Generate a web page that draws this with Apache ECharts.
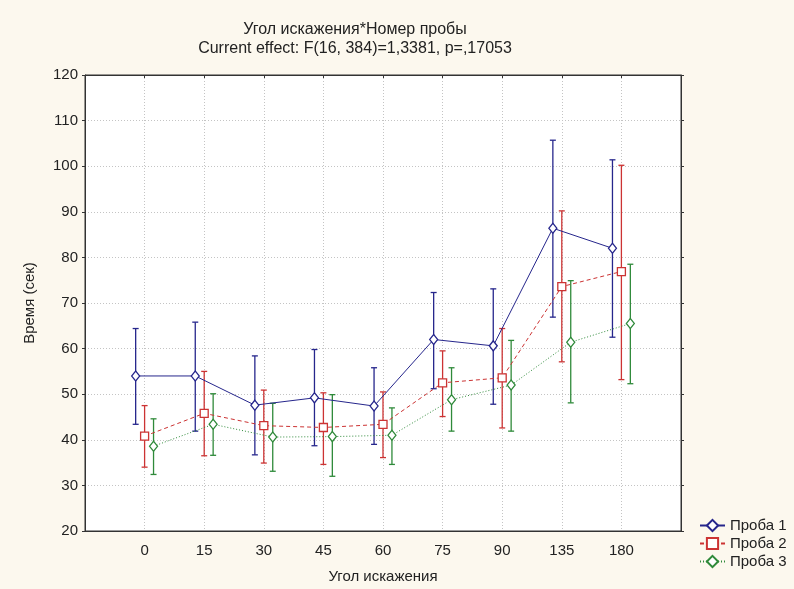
<!DOCTYPE html>
<html lang="ru" style="height: 100%">
<head>
  <meta charset="utf-8">
</head>
<body style="height: 100%; margin: 0">
  <div id="container" style="width: 794px; height: 589px"></div>

  <script type="text/javascript" src="https://fastly.jsdelivr.net/npm/echarts@6/dist/echarts.min.js"></script>
  <script type="text/javascript">
    // данные: средние и границы доверительных интервалов
    var angles = ['0', '15', '30', '45', '60', '75', '90', '135', '180'];
    var mean1 = [54.0, 54.0, 47.6, 49.2, 47.4, 62.0, 60.6, 86.4, 82.0];
    var low1  = [43.4, 41.9, 36.7, 38.7, 39.0, 51.2, 47.8, 66.9, 62.5];
    var high1 = [64.4, 65.8, 58.4, 59.8, 55.8, 72.3, 73.1, 105.7, 101.4];
    var mean2 = [40.8, 45.8, 43.1, 42.7, 43.4, 52.5, 53.6, 73.6, 76.9];
    var low2  = [34.0, 36.5, 34.9, 34.6, 36.1, 45.1, 42.6, 57.1, 53.2];
    var high2 = [47.5, 55.0, 50.9, 50.3, 50.5, 59.5, 64.4, 90.2, 100.2];
    var mean3 = [38.6, 43.4, 40.6, 40.7, 41.0, 48.8, 52.0, 61.4, 65.5];
    var low3  = [32.4, 36.6, 33.1, 32.0, 34.6, 41.9, 41.9, 48.1, 52.3];
    var high3 = [44.6, 50.1, 48.0, 49.9, 47.0, 55.8, 61.8, 74.9, 78.5];

    var dom = document.getElementById('container');
    var myChart = echarts.init(dom, null, { renderer: 'canvas' });
    var font = "'Liberation Sans', Arial, sans-serif";

    var groups = [
      { name: 'Проба 1', mean: mean1, low: low1, high: high1, color: '#26268c', type: 'solid', symbol: 'diamond', size: [8, 10], off: -0.15 },
      { name: 'Проба 2', mean: mean2, low: low2, high: high2, color: '#cc3333', type: [4, 3], symbol: 'rect', size: 8, off: 0 },
      { name: 'Проба 3', mean: mean3, low: low3, high: high3, color: '#2f8a3a', type: [1, 2], symbol: 'diamond', size: [8, 10], off: 0.15 }
    ];

    var series = [];
    groups.forEach(function (g, k) {
      // усы (доверительный интервал)
      series.push({
        name: 'err' + k,
        type: 'custom',
        z: 2,
        silent: true,
        data: g.mean.map(function (m, i) { return [i + g.off, g.low[i], g.high[i]]; }),
        renderItem: function (params, api) {
          var lo = api.coord([api.value(0), api.value(1)]);
          var hi = api.coord([api.value(0), api.value(2)]);
          var w = 3;
          var st = { stroke: g.color, lineWidth: 1.3 };
          return {
            type: 'group',
            children: [
              { type: 'line', shape: { x1: lo[0], y1: lo[1], x2: hi[0], y2: hi[1] }, style: st },
              { type: 'line', shape: { x1: lo[0] - w, y1: lo[1], x2: lo[0] + w, y2: lo[1] }, style: st },
              { type: 'line', shape: { x1: hi[0] - w, y1: hi[1], x2: hi[0] + w, y2: hi[1] }, style: st }
            ]
          };
        }
      });
      series.push({
        name: g.name,
        type: 'line',
        z: 3,
        data: g.mean.map(function (m, i) { return [i + g.off, m]; }),
        symbol: g.symbol,
        symbolSize: g.size,
        showAllSymbol: true,
        lineStyle: { color: g.color, width: 1, type: g.type },
        itemStyle: { color: '#ffffff', borderColor: g.color, borderWidth: 1.3 },
        emphasis: { disabled: true }
      });
    });

    var option = {
      backgroundColor: '#fcf8ee',
      animation: false,
      title: {
        text: 'Угол искажения*Номер пробы\nCurrent effect: F(16, 384)=1,3381, p=,17053',
        left: 350,
        top: 15,
        textAlign: 'center',
        textStyle: { fontFamily: font, fontSize: 16, fontWeight: 'normal', color: '#222', lineHeight: 19 }
      },
      legend: {
        data: ['Проба 1', 'Проба 2', 'Проба 3'],
        orient: 'vertical',
        left: 694,
        top: 513,
        itemGap: 3,
        itemWidth: 25,
        itemHeight: 14,
        textStyle: { fontFamily: font, fontSize: 15, color: '#222' }
      },
      grid: {
        left: 85, right: 113, top: 75, bottom: 58,
        show: true, backgroundColor: '#ffffff', borderColor: '#333', borderWidth: 1
      },
      xAxis: [{
        type: 'value',
        min: -1, max: 9, interval: 1,
        name: 'Угол искажения',
        nameLocation: 'middle',
        nameGap: 38,
        nameTextStyle: { fontFamily: font, fontSize: 15, color: '#222' },
        axisLine: { onZero: false, lineStyle: { color: '#333' } },
        axisTick: { show: false },
        axisLabel: {
          fontFamily: font, fontSize: 15, color: '#222', margin: 12,
          formatter: function (v) { return angles[v] !== undefined ? angles[v] : ''; }
        },
        splitLine: { lineStyle: { color: '#c4c4c4', type: [1, 2] } }
      }, {
        type: 'value', position: 'top',
        min: -1, max: 9, interval: 1,
        axisLine: { onZero: false, lineStyle: { color: '#333' } },
        axisTick: { inside: true, length: 3, lineStyle: { color: '#333' } },
        axisLabel: { show: false },
        splitLine: { show: false }
      }],
      yAxis: [{
        type: 'value',
        min: 20, max: 120, interval: 10,
        name: 'Время (сек)',
        nameLocation: 'middle',
        nameGap: 48,
        nameTextStyle: { fontFamily: font, fontSize: 15, color: '#222' },
        axisLine: { show: true, onZero: false, lineStyle: { color: '#333' } },
        axisTick: { show: true, length: 3, lineStyle: { color: '#333' } },
        axisLabel: { fontFamily: font, fontSize: 15, color: '#222', margin: 7 },
        splitLine: { lineStyle: { color: '#c4c4c4', type: [1, 2] } }
      }, {
        type: 'value', position: 'right',
        min: 20, max: 120, interval: 10,
        axisLine: { show: true, onZero: false, lineStyle: { color: '#333' } },
        axisTick: { show: true, length: 3, lineStyle: { color: '#333' } },
        axisLabel: { show: false },
        splitLine: { show: false }
      }],
      series: series
    };

    myChart.setOption(option);
    window.addEventListener('resize', myChart.resize);
  </script>
</body>
</html>
